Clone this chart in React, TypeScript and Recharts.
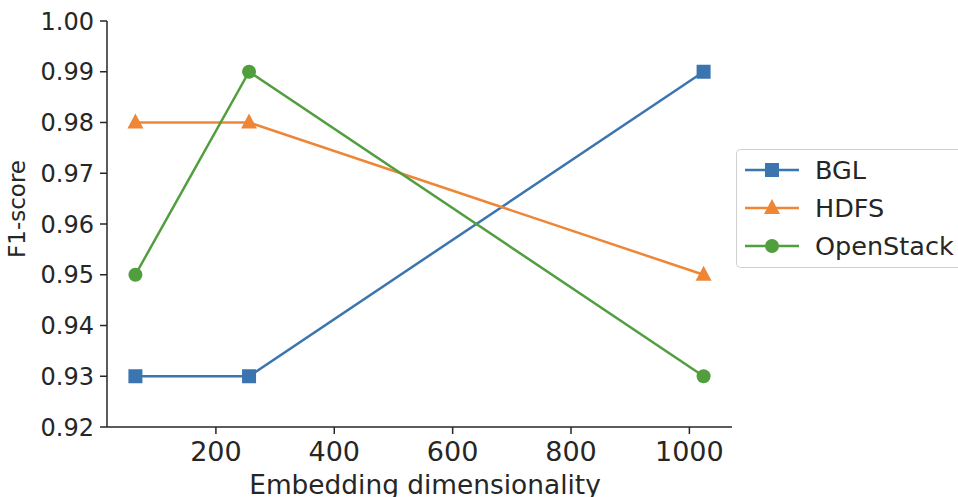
import React from 'react';
import { LineChart, Line, XAxis, YAxis } from 'recharts';

const dims = [64, 256, 1024];
const bgl = [0.93, 0.93, 0.99];
const hdfs = [0.98, 0.98, 0.95];
const openstack = [0.95, 0.99, 0.93];
const xTicks = [200, 400, 600, 800, 1000];
const yTicks = [0.92, 0.93, 0.94, 0.95, 0.96, 0.97, 0.98, 0.99, 1.0];

const series = [
  { key: 'bgl', name: 'BGL', color: '#3a75b0', marker: 'square' },
  { key: 'hdfs', name: 'HDFS', color: '#ef8636', marker: 'triangle' },
  { key: 'openstack', name: 'OpenStack', color: '#519e3e', marker: 'circle' },
];

const data = dims.map((d, i) => ({ dim: d, bgl: bgl[i], hdfs: hdfs[i], openstack: openstack[i] }));

const FONT = '"DejaVu Sans", sans-serif';
const INK = '#262626';

const Marker = ({ cx, cy, kind, color }: any) => {
  if (cx == null || cy == null) return null;
  if (kind === 'square') return <rect x={cx - 7} y={cy - 7} width={14} height={14} fill={color} />;
  if (kind === 'triangle')
    return <polygon points={`${cx},${cy - 9} ${cx - 8},${cy + 6} ${cx + 8},${cy + 6}`} fill={color} />;
  return <circle cx={cx} cy={cy} r={7} fill={color} />;
};

// legend runs off the right edge of the figure, like the original
const LegendBox = () => (
  <div
    style={{
      position: 'absolute',
      left: 736,
      top: 149,
      width: 222,
      height: 119,
      border: '1.5px solid #d0d0d0',
      borderRight: 'none',
      borderRadius: '5px 0 0 5px',
      background: '#fff',
      boxSizing: 'border-box',
      fontFamily: FONT,
      overflow: 'hidden',
    }}
  >
    {series.map((s, i) => (
      <div key={s.key} style={{ position: 'absolute', left: 0, top: 6.5 + i * 38, height: 26, display: 'flex', alignItems: 'center' }}>
        <svg width={78} height={26}>
          <line x1={8} y1={13} x2={62} y2={13} stroke={s.color} strokeWidth={2.5} />
          <Marker cx={35} cy={13} kind={s.marker} color={s.color} />
        </svg>
        <span style={{ fontSize: 25.5, color: INK, lineHeight: '26px', whiteSpace: 'nowrap' }}>{s.name}</span>
      </div>
    ))}
  </div>
);

const App: React.FC = () => {
  return (
    <div style={{ position: 'absolute', left: 0, top: 0, width: 958, height: 497, background: '#fff', overflow: 'hidden' }}>
      <LineChart width={958} height={497} data={data} margin={{ top: 21, right: 226, bottom: 0, left: 0 }}>
        <XAxis
          dataKey="dim"
          type="number"
          domain={[16, 1072]}
          ticks={xTicks}
          allowDataOverflow
          height={70}
          tickSize={7}
          tickMargin={8}
          axisLine={{ stroke: INK, strokeWidth: 1.5 }}
          tickLine={{ stroke: INK, strokeWidth: 1.5 }}
          tick={{ fill: INK, fontSize: 27, fontFamily: FONT }}
          label={{
            content: () => (
              <text x={425} y={494} textAnchor="middle" fill={INK} fontSize={26.4} fontFamily={FONT}>
                Embedding dimensionality
              </text>
            ),
          }}
        />
        <YAxis
          type="number"
          domain={[0.92, 1.0]}
          ticks={yTicks}
          allowDataOverflow
          width={107}
          tickSize={7}
          tickMargin={6}
          tickFormatter={(v: number) => v.toFixed(2)}
          axisLine={{ stroke: INK, strokeWidth: 1.5 }}
          tickLine={{ stroke: INK, strokeWidth: 1.5 }}
          tick={{ fill: INK, fontSize: 24, fontFamily: FONT }}
          label={{
            content: () => (
              <text x={25} y={209} transform="rotate(-90 25 209)" textAnchor="middle" fill={INK} fontSize={23} fontFamily={FONT}>
                F1-score
              </text>
            ),
          }}
        />
        {series.map((s) => (
          <Line
            key={s.key}
            dataKey={s.key}
            name={s.name}
            stroke={s.color}
            strokeWidth={2.5}
            isAnimationActive={false}
            dot={(p: any) => <Marker key={`${s.key}-${p.index}`} cx={p.cx} cy={p.cy} kind={s.marker} color={s.color} />}
            activeDot={false}
          />
        ))}
      </LineChart>
      <LegendBox />
    </div>
  );
};

export default App;
